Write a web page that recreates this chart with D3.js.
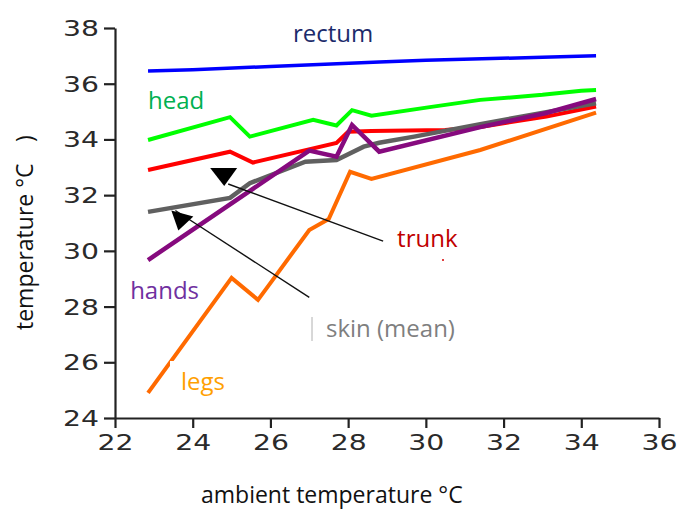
<!DOCTYPE html>
<html>
<head>
<meta charset="utf-8">
<script src="https://cdnjs.cloudflare.com/ajax/libs/d3/7.8.5/d3.min.js"></script>
<style>
  body { margin: 0; background: #fff; }
  svg { display: block; }
  .lbl { font-family: "Open Sans", sans-serif; font-size: 24px; }
  .tick-lbl { font-family: "DejaVu Sans", sans-serif; font-size: 21px; fill: #2a2a2a; }
</style>
</head>
<body>
<div id="chart"></div>
<script>
// ambient temperature (x) vs body temperatures (y)
var xTicks = [22, 24, 26, 28, 30, 32, 34, 36];
var yTicks = [24, 26, 28, 30, 32, 34, 36, 38];

var rectum = [[22.85,36.46],[24.0,36.5],[26.0,36.62],[28.8,36.78],[30.0,36.84],[33.0,36.95],[34.38,37.0]];
var head   = [[22.85,33.98],[24.96,34.8],[25.47,34.1],[27.1,34.7],[27.7,34.5],[28.1,35.05],[28.6,34.85],[30.1,35.16],[31.4,35.42],[33.0,35.6],[34.0,35.75],[34.38,35.77]];
var trunk  = [[22.85,32.9],[24.96,33.56],[25.55,33.17],[27.7,33.87],[28.0,34.28],[28.6,34.3],[30.5,34.34],[31.4,34.45],[33.1,34.82],[34.38,35.18]];
var skin   = [[22.85,31.4],[24.96,31.9],[25.47,32.43],[26.9,33.2],[27.7,33.26],[28.4,33.74],[28.8,33.88],[29.7,34.1],[31.4,34.55],[33.1,34.98],[34.38,35.3]];
var hands  = [[22.85,29.67],[27.0,33.6],[27.7,33.38],[28.1,34.52],[28.8,33.56],[31.4,34.44],[33.1,34.95],[34.38,35.45]];
var legs   = [[22.85,24.9],[25.0,29.03],[25.68,28.24],[26.06,28.96],[27.0,30.75],[27.5,31.14],[28.05,32.84],[28.6,32.58],[31.4,33.62],[34.38,34.96]];

var series = [
  {name: "trunk",  data: trunk,  color: "#ff0000", w: 4},
  {name: "legs",   data: legs,   color: "#ff6a00", w: 4},
  {name: "skin",   data: skin,   color: "#606060", w: 4.5},
  {name: "hands",  data: hands,  color: "#860a7e", w: 4.5},
  {name: "head",   data: head,   color: "#00ff00", w: 4},
  {name: "rectum", data: rectum, color: "#0000ff", w: 3.5}
];

// labels placed in data units
var labels = [
  {text: "rectum",      x: 26.58, y: 37.49, color: "#1c2b6b"},
  {text: "head",        x: 22.85, y: 35.08, color: "#00b050"},
  {text: "hands",       x: 22.39, y: 28.27, color: "#7030a0"},
  {text: "legs",        x: 23.7,  y: 25.0,  color: "#ffa000"},
  {text: "trunk",       x: 29.26, y: 30.15, color: "#c00000"},
  {text: "skin (mean)", x: 27.43, y: 26.9,  color: "#7f7f7f"}
];

// arrows: from label end to arrow head
var arrows = [
  {from: [28.9, 30.35], head: [24.81, 32.4], dir: "down"},
  {from: [27.0, 28.33], head: [23.45, 31.45], dir: "upleft"}
];

var W = 688, H = 510;
var svg = d3.select("#chart").append("svg").attr("width", W).attr("height", H);

var x = d3.scaleLinear().domain([22, 36]).range([115, 659]);
var y = d3.scaleLinear().domain([24, 38]).range([418, 28]);

// axes
var gx = svg.append("g").attr("transform", "translate(0," + y(24) + ")")
  .call(d3.axisBottom(x).tickValues(xTicks).tickSize(10).tickSizeOuter(0).tickFormat(d3.format("d")));
var gy = svg.append("g").attr("transform", "translate(" + x(22) + ",0)")
  .call(d3.axisLeft(y).tickValues(yTicks).tickSize(11).tickSizeOuter(0).tickFormat(d3.format("d")));

[gx, gy].forEach(function(g){
  g.select(".domain").attr("stroke", "#222").attr("stroke-width", 2.2);
  g.selectAll(".tick line").attr("stroke", "#222").attr("stroke-width", 2.2);
  g.selectAll(".tick text").attr("class", "tick-lbl").attr("fill", null)
    .attr("textLength", 36).attr("lengthAdjust", "spacingAndGlyphs");
});
gx.selectAll(".tick text").attr("dy", null).attr("y", 32);
gy.selectAll(".tick text").attr("x", -16).attr("dy", "0.36em");

// lines
var line = d3.line().x(function(d){ return x(d[0]); }).y(function(d){ return y(d[1]); });
svg.append("g").selectAll("path").data(series).enter().append("path")
  .attr("d", function(s){ return line(s.data); })
  .attr("fill", "none")
  .attr("stroke", function(s){ return s.color; })
  .attr("stroke-width", function(s){ return s.w; })
  .attr("stroke-linejoin", "miter");

// white box cutting the legs line near its label
svg.append("rect").attr("x", 170).attr("y", 361).attr("width", 60).attr("height", 34).attr("fill", "#fff");

// arrows
arrows.forEach(function(a){
  svg.append("line")
    .attr("x1", x(a.from[0])).attr("y1", y(a.from[1]))
    .attr("x2", x(a.head[0]) + 4).attr("y2", y(a.head[1]))
    .attr("stroke", "#111").attr("stroke-width", 1.4);
  var hx = x(a.head[0]), hy = y(a.head[1]);
  var p = a.dir === "down"
    ? [[hx - 14, hy - 16], [hx + 13, hy - 16], [hx, hy + 2]]
    : [[hx, hy], [hx + 22, hy + 6], [hx + 7, hy + 20]];
  svg.append("path").attr("d", "M" + p.join("L") + "Z").attr("fill", "#000");
});

// small leftovers in the source picture
svg.append("line").attr("x1", 312).attr("x2", 312).attr("y1", 317).attr("y2", 341)
  .attr("stroke", "#b0b0b0").attr("stroke-width", 1);
svg.append("rect").attr("x", 442).attr("y", 259).attr("width", 2).attr("height", 2).attr("fill", "#e04040");

// series labels
svg.append("g").selectAll("text").data(labels).enter().append("text")
  .attr("class", "lbl")
  .attr("x", function(d){ return x(d.x); })
  .attr("y", function(d){ return y(d.y); })
  .attr("fill", function(d){ return d.color; })
  .text(function(d){ return d.text; });

// axis titles
svg.append("text").attr("class", "lbl").attr("x", 201).attr("y", 503)
  .style("font-size", "23px").attr("fill", "#111").text("ambient temperature °C");
svg.append("text").attr("class", "lbl").attr("transform", "translate(33,330) rotate(-90)")
  .style("font-size", "23px").attr("fill", "#111").text("temperature °C");
svg.append("text").attr("class", "lbl").attr("transform", "translate(33,142) rotate(-90)")
  .style("font-size", "23px").attr("fill", "#111").text(")");
</script>
</body>
</html>
